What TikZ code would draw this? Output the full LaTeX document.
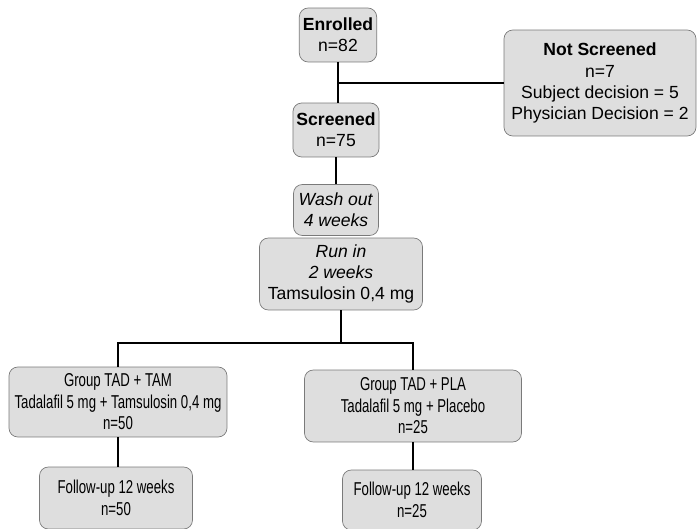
\documentclass[tikz,border=0pt]{standalone}
\usepackage{fontspec}
\setmainfont{Liberation Sans}
\newfontfamily\narrowfont[FakeStretch=0.71]{Liberation Sans}
\definecolor{boxfill}{HTML}{DEDEDE}
\definecolor{boxline}{HTML}{7A7A7A}
\begin{document}
\begin{tikzpicture}[x=0.02cm, y=-0.02cm,
		box/.style={draw=boxline, fill=boxfill, rounded corners=5pt, align=center,
			inner sep=2pt, font=\fontsize{10}{12}\selectfont},
		narrowbox/.style={box, font=\fontsize{10.6}{12.2}\selectfont\narrowfont},
		link/.style={line width=1.2pt, black}]
		\useasboundingbox (0, 0) rectangle (697, 528);
		% top part
		\node[box, minimum width=1.46cm, minimum height=1.08cm] (enr) at (338, 35) {\textbf{Enrolled}\\n=82};
		\node[box, minimum width=3.84cm, minimum height=2.12cm] (ns) at (600, 83) {\textbf{Not Screened}\\n=7\\Subject decision = 5\\Physician Decision = 2};
		\node[box, minimum width=1.7cm, minimum height=1.08cm] (scr) at (336, 130) {\textbf{Screened}\\n=75};
		\node[box, minimum width=1.7cm, minimum height=1.02cm] (wash) at (336, 210) {\textit{Wash out}\\\textit{4 weeks}};
		\node[box, minimum width=3.26cm, minimum height=1.44cm] (run) at (341, 274) {\textit{Run in}\\\textit{2 weeks}\\Tamsulosin 0,4 mg};
		% groups
		\node[narrowbox, minimum width=4.36cm, minimum height=1.4cm] (tam) at (118, 402) {Group TAD + TAM\\Tadalafil 5 mg + Tamsulosin 0,4 mg\\n=50};
		\node[narrowbox, minimum width=4.34cm, minimum height=1.44cm] (pla) at (413, 406) {Group TAD + PLA\\Tadalafil 5 mg + Placebo\\n=25};
		\node[narrowbox, minimum width=3.06cm, minimum height=1.24cm] (futam) at (116, 498) {Follow-up 12 weeks\\n=50};
		\node[narrowbox, minimum width=2.78cm, minimum height=1.2cm] (fupla) at (412, 500) {Follow-up 12 weeks\\n=25};
		\coordinate (split) at (341, 343);
		% connectors
		\draw[link] (enr.south) -- (enr.south |- scr.north);
		\draw[link] (enr.south |- ns.west) -- (ns.west);
		\draw[link] (scr.south) -- (scr.south |- wash.north);
		\draw[link] (run.south) -- (split);
		\draw[link] (tam.north) -- (tam.north |- split) -- (pla.north |- split) -- (pla.north);
		\draw[link] (tam.south) -- (tam.south |- futam.north);
		\draw[link] (pla.south) -- (pla.south |- fupla.north);
	\end{tikzpicture}
\end{document}
